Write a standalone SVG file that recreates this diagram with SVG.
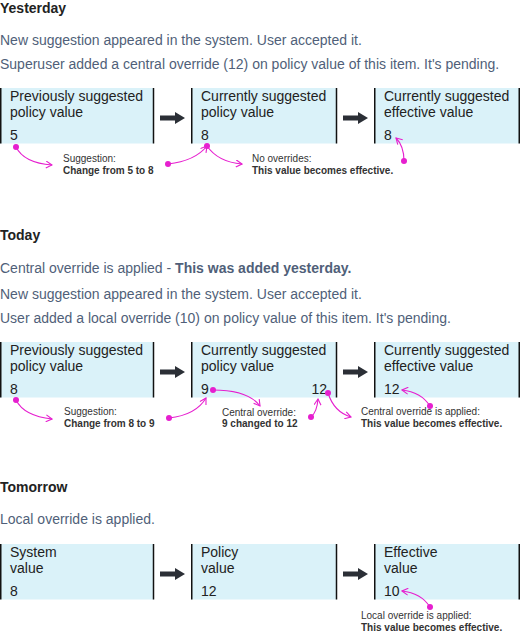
<svg xmlns="http://www.w3.org/2000/svg" width="520" height="632" viewBox="0 0 520 632">
<defs>
<style>
.h{font-family:"Liberation Sans",Arial,sans-serif;font-size:14px;font-weight:bold;fill:#222}
.d{font-family:"Liberation Sans",Arial,sans-serif;font-size:14px;fill:#505f79}
.db{font-weight:bold}
.t{font-family:"Liberation Sans",Arial,sans-serif;font-size:14px;fill:#222}
.box{fill:#daf2f9}
.edge{stroke:#111;stroke-width:1.5}
.a{font-family:"Liberation Sans",Arial,sans-serif;font-size:10px;fill:#333}
.ab{font-weight:bold}
.big{fill:#2b2f36}
.c{fill:none;stroke:#e61fcf;stroke-width:1.1;marker-end:url(#chev)}
.dot{fill:#e61fcf}
</style>
<marker id="chev" viewBox="0 0 8 8" refX="7" refY="4" markerWidth="8" markerHeight="8" markerUnits="userSpaceOnUse" orient="auto">
<path d="M1,0.5 L7,4 L1,7.5" fill="none" stroke="#e61fcf" stroke-width="1.1"/>
</marker>
</defs>
<rect width="520" height="632" fill="#fff"/>

<!-- Headings and descriptions -->
<g id="yesterday-text">
<text class="h" x="0" y="13">Yesterday</text>
<text class="d" x="0" y="45">New suggestion appeared in the system. User accepted it.</text>
<text class="d" x="0" y="69">Superuser added a central override (12) on policy value of this item. It's pending.</text>
</g>
<g id="today-text">
<text class="h" x="0" y="240">Today</text>
<text class="d" x="0" y="273">Central override is applied - <tspan class="db">This was added yesterday.</tspan></text>
<text class="d" x="0" y="299">New suggestion appeared in the system. User accepted it.</text>
<text class="d" x="0" y="323">User added a local override (10) on policy value of this item. It's pending.</text>
</g>
<g id="tomorrow-text">
<text class="h" x="0" y="492">Tomorrow</text>
<text class="d" x="0" y="524">Local override is applied.</text>
</g>

<!-- Row 1 -->
<g id="y-prev">
<rect class="box" x="0" y="88" width="154" height="55.5"/>
<line class="edge" x1="0.75" y1="88" x2="0.75" y2="143.5"/><line class="edge" x1="153.5" y1="88" x2="153.5" y2="143.5"/>
<text class="t" x="10" y="101">Previously suggested</text>
<text class="t" x="10" y="117">policy value</text>
<text class="t" x="10" y="140">5</text>
</g>
<g id="y-curr">
<rect class="box" x="191" y="88" width="146" height="55.5"/>
<line class="edge" x1="191.75" y1="88" x2="191.75" y2="143.5"/><line class="edge" x1="336.5" y1="88" x2="336.5" y2="143.5"/>
<text class="t" x="201" y="101">Currently suggested</text>
<text class="t" x="201" y="117">policy value</text>
<text class="t" x="201" y="140">8</text>
</g>
<g id="y-eff">
<rect class="box" x="374" y="88" width="146" height="55.5"/>
<line class="edge" x1="374.75" y1="88" x2="374.75" y2="143.5"/><line class="edge" x1="519.25" y1="88" x2="519.25" y2="143.5"/>
<text class="t" x="384" y="101">Currently suggested</text>
<text class="t" x="384" y="117">effective value</text>
<text class="t" x="384" y="140">8</text>
</g>
<g id="y-notes">
<text class="a" x="63" y="162">Suggestion:</text>
<text class="a ab" x="63" y="174">Change from 5 to 8</text>
<text class="a" x="252" y="162">No overrides:</text>
<text class="a ab" x="252" y="174">This value becomes effective.</text>
</g>

<!-- Row 2 -->
<g id="t-prev">
<rect class="box" x="0" y="342" width="154" height="55.5"/>
<line class="edge" x1="0.75" y1="342" x2="0.75" y2="397.5"/><line class="edge" x1="153.5" y1="342" x2="153.5" y2="397.5"/>
<text class="t" x="10" y="355">Previously suggested</text>
<text class="t" x="10" y="371">policy value</text>
<text class="t" x="10" y="394">8</text>
</g>
<g id="t-curr">
<rect class="box" x="191" y="342" width="146" height="55.5"/>
<line class="edge" x1="191.75" y1="342" x2="191.75" y2="397.5"/><line class="edge" x1="336.5" y1="342" x2="336.5" y2="397.5"/>
<text class="t" x="201" y="355">Currently suggested</text>
<text class="t" x="201" y="371">policy value</text>
<text class="t" x="201" y="394">9</text>
<text class="t" x="327" y="394" text-anchor="end">12</text>
</g>
<g id="t-eff">
<rect class="box" x="374" y="342" width="146" height="55.5"/>
<line class="edge" x1="374.75" y1="342" x2="374.75" y2="397.5"/><line class="edge" x1="519.25" y1="342" x2="519.25" y2="397.5"/>
<text class="t" x="384" y="355">Currently suggested</text>
<text class="t" x="384" y="371">effective value</text>
<text class="t" x="384" y="394">12</text>
</g>
<g id="t-notes">
<text class="a" x="64" y="415">Suggestion:</text>
<text class="a ab" x="64" y="427">Change from 8 to 9</text>
<text class="a" x="222" y="416">Central override:</text>
<text class="a ab" x="222" y="427">9 changed to 12</text>
<text class="a" x="361" y="415">Central override is applied:</text>
<text class="a ab" x="361" y="427">This value becomes effective.</text>
</g>

<!-- Row 3 -->
<g id="m-sys">
<rect class="box" x="0" y="544" width="154" height="55.5"/>
<line class="edge" x1="0.75" y1="544" x2="0.75" y2="599.5"/><line class="edge" x1="153.5" y1="544" x2="153.5" y2="599.5"/>
<text class="t" x="10" y="557">System</text>
<text class="t" x="10" y="573">value</text>
<text class="t" x="10" y="596">8</text>
</g>
<g id="m-pol">
<rect class="box" x="191" y="544" width="146" height="55.5"/>
<line class="edge" x1="191.75" y1="544" x2="191.75" y2="599.5"/><line class="edge" x1="336.5" y1="544" x2="336.5" y2="599.5"/>
<text class="t" x="201" y="557">Policy</text>
<text class="t" x="201" y="573">value</text>
<text class="t" x="201" y="596">12</text>
</g>
<g id="m-eff">
<rect class="box" x="374" y="544" width="146" height="55.5"/>
<line class="edge" x1="374.75" y1="544" x2="374.75" y2="599.5"/><line class="edge" x1="519.25" y1="544" x2="519.25" y2="599.5"/>
<text class="t" x="384" y="557">Effective</text>
<text class="t" x="384" y="573">value</text>
<text class="t" x="384" y="596">10</text>
</g>
<g id="m-notes">
<text class="a" x="361" y="619">Local override is applied:</text>
<text class="a ab" x="361" y="631">This value becomes effective.</text>
</g>

<!-- Connectors -->
<g id="connectors">
<path class="big" d="M160,115.5H175V112L185,118L175,124V120.5H160Z"/>
<path class="big" d="M343,115.5H358V112L368,118L358,124V120.5H343Z"/>
<path class="big" d="M160,369.5H175V366L185,372L175,378V374.5H160Z"/>
<path class="big" d="M343,369.5H358V366L368,372L358,378V374.5H343Z"/>
<path class="big" d="M160,571.5H175V568L185,574L175,580V576.5H160Z"/>
<path class="big" d="M343,571.5H358V568L368,574L358,580V576.5H343Z"/>

<path class="c" d="M16,147Q24,163 52,165"/>
<path class="c" d="M168,164Q195,161 207,146"/>
<path class="c" d="M207,146Q218,162 242,164"/>
<path class="c" d="M404,161Q404,146 396,138"/>
<circle class="dot" cx="16" cy="147" r="3"/>
<circle class="dot" cx="168" cy="164" r="3"/>
<circle class="dot" cx="207" cy="146" r="3"/>
<circle class="dot" cx="404" cy="161" r="3"/>

<path class="c" d="M16,400Q24,416 52,419"/>
<path class="c" d="M169,418Q196,415 206,398"/>
<path class="c" d="M213,390Q248,390 260,406"/>
<path class="c" d="M311,417Q317,412 318,399"/>
<path class="c" d="M328,393Q334,412 351,417"/>
<path class="c" d="M430,406Q421,392 402,390"/>
<circle class="dot" cx="16" cy="400" r="3"/>
<circle class="dot" cx="169" cy="418" r="3"/>
<circle class="dot" cx="213" cy="390" r="3"/>
<circle class="dot" cx="311" cy="417" r="3"/>
<circle class="dot" cx="328" cy="393" r="3"/>
<circle class="dot" cx="430" cy="406" r="3"/>

<path class="c" d="M430,607Q421,593 402,591"/>
<circle class="dot" cx="430" cy="607" r="3"/>
</g>
</svg>
